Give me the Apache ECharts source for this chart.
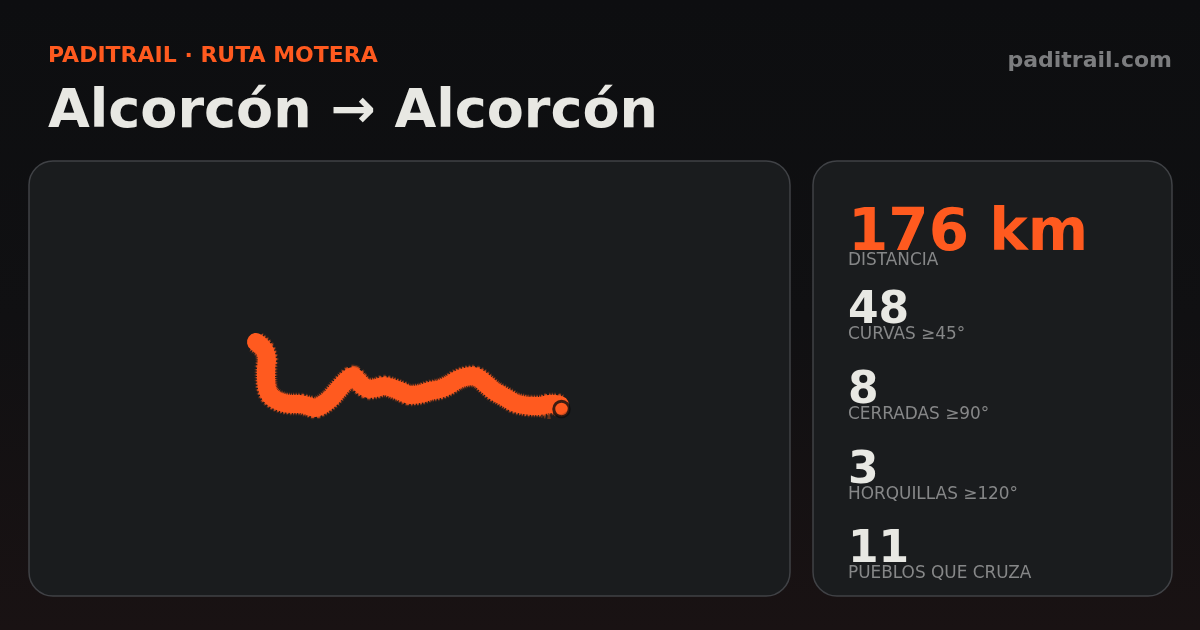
<!DOCTYPE html>
<html><head><meta charset="utf-8">
<style>html,body{margin:0;padding:0;background:#0d0e10}#c{width:1200px;height:630px}</style>
<script src="https://cdn.jsdelivr.net/npm/echarts@6/dist/echarts.min.js"></script></head>
<body><div id="c"></div>
<script>
var routeX=[256,261,265,267,266,266,267,270,276,284,292,300,308,315,322,330,337,345,353,358,363,369,376,384,392,400,410,420,430,440,449,457,465,473,480,487,494,501,508,515,523,531,540,549,556,560];
var routeY=[342,346,351,360,369,378,388,395,400,403,404,404,406,408,405,399,391,382,376,381,386,389,388,386,388,391,395,394,391,389,385,380,377,376,379,385,391,395,399,403,405,406,406,404,404,405];
var spurX=[538,544,549,553];
var spurY=[409,411,412,408];
var endPoint=[[561.5,409]];
var eyebrow='PADITRAIL · RUTA MOTERA';
var title='Alcorcón → Alcorcón';
var site='paditrail.com';
var statValues=['176 km','48','8','3','11'];
var statLabels=['DISTANCIA','CURVAS ≥45°','CERRADAS ≥90°','HORQUILLAS ≥120°','PUEBLOS QUE CRUZA'];
var route=routeX.map(function(x,i){return [x,routeY[i]]});
var spur=spurX.map(function(x,i){return [x,spurY[i]]});
var F='"DejaVu Sans"';
var valueBase=[252,325,405,485,564], labelBase=[266,340,420,500,579];
function txt(x,base,s,size,w,col,align){return {type:'text',z:5,x:x,y:base-.8*size,style:{text:s,fontFamily:F,fontSize:size,fontWeight:w,fill:col,textAlign:align||'left'}}}
var g=[
 {type:'rect',z:0,shape:{x:0,y:0,width:1200,height:630},style:{fill:new echarts.graphic.LinearGradient(0,0,0,1,[{offset:0,color:'#0d0e10'},{offset:.5,color:'#101012'},{offset:1,color:'#191213'}])}},
 {type:'rect',z:1,shape:{x:29,y:161,width:761,height:435,r:24},style:{fill:'#1a1c1e',stroke:'#404246',lineWidth:1.5}},
 {type:'rect',z:1,shape:{x:813,y:161,width:359,height:435,r:24},style:{fill:'#1a1c1e',stroke:'#404246',lineWidth:1.5}},
 txt(48,63,eyebrow,22,700,'#ff5a1f'),
 txt(48,129,title,54,700,'#e8e8e3'),
 txt(1172,68,site,22,700,'#7c7d7f','right')
];
statValues.forEach(function(v,i){g.push(txt(848,valueBase[i],v,i?44:58,700,i?'#e8e8e3':'#ff5a1f'));g.push(txt(848,labelBase[i],statLabels[i],16.9,400,'#868788'));});
var chart=echarts.init(document.getElementById('c'),null,{renderer:'canvas'});
chart.setOption({animation:false,graphic:{elements:g},
 grid:{left:0,right:0,top:0,bottom:0},
 xAxis:{type:'value',min:0,max:1200,show:false},
 yAxis:{type:'value',min:0,max:630,inverse:true,show:false},
 series:[
  {type:'line',z:2,data:route,showSymbol:false,smooth:.3,lineStyle:{color:'#a8481c',width:23,opacity:.35,type:[1.3,1.3],cap:'butt',join:'round'}},
  {type:'line',z:2,data:spur,showSymbol:false,smooth:.3,lineStyle:{color:'#a8481c',width:14,opacity:.55,type:[1.3,1.3],cap:'butt',join:'round'}},
  {type:'line',z:3,data:route,showSymbol:false,smooth:.3,lineStyle:{color:'#ff5a1f',width:20.5,opacity:.75,type:[1.6,1],cap:'butt',join:'round'}},
  {type:'line',z:3,data:route,showSymbol:false,smooth:.3,lineStyle:{color:'#ff5a1f',width:18,cap:'round',join:'round'}},
  {type:'scatter',z:4,data:endPoint,symbolSize:15.5,itemStyle:{color:'#ff5a1f',borderColor:'#0e0e0f',borderWidth:3}}
 ]});
</script></body></html>
